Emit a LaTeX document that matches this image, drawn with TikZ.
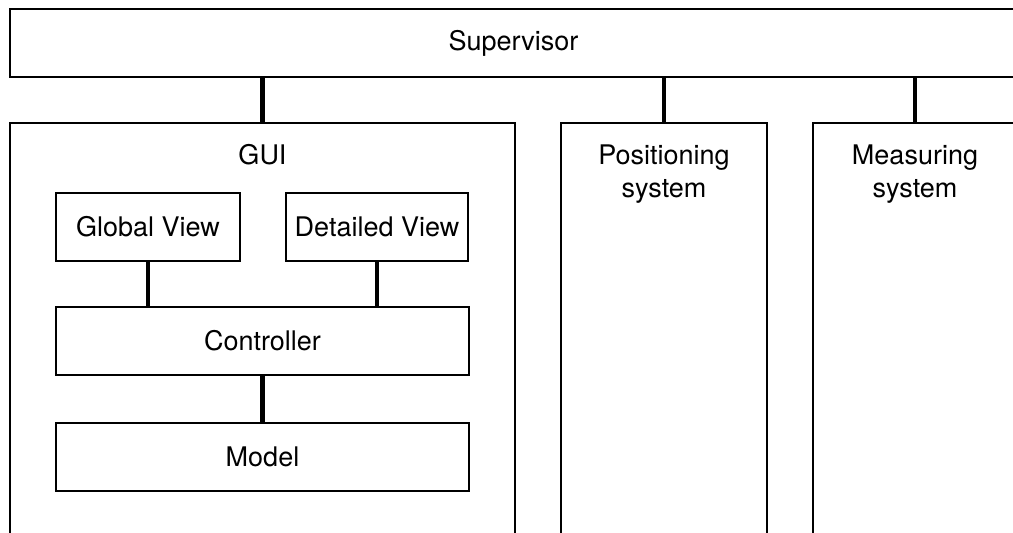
\documentclass[tikz,border=0pt]{standalone}
\usepackage{fontspec}
\setmainfont{TeX Gyre Heros}
\usepackage{tikz}
\usetikzlibrary{positioning,calc}

\begin{document}
\begin{tikzpicture}[x=1pt,y=-1pt,
  font=\fontsize{27}{32.5}\selectfont,
  box/.style={draw,line width=1.8pt,inner sep=0pt,align=center},
  cont/.style={box,minimum height=440pt},
  part/.style={box,minimum height=68pt},
  title/.style={inner sep=0pt,align=center},
  link/.style={line width=4.5pt}]
  \useasboundingbox (0,0) rectangle (1013,533);
  \clip (0,0) rectangle (1013,533);
  % top level
  \node[box,minimum width=1007pt,minimum height=68pt] (sup) at (513.5,43) {Supervisor};
  \node[cont,minimum width=505pt] (gui) at (262.5,343) {};
  \node[cont,minimum width=206pt] (pos) at (664,343) {};
  \node[cont,minimum width=204pt] (meas) at (915,343) {};
  \node[title,below=22.5pt of gui.north] (guit) {GUI};
  \node[title,below=23pt of pos.north] (post) {Positioning\\system};
  \node[title,below=23pt of meas.north] (meast) {Measuring\\system};
  \draw[link] (gui.north) -- (gui.north |- sup.south);
  \draw[link] (pos.north) -- (pos.north |- sup.south);
  \draw[link] (meas.north) -- (meas.north |- sup.south);
  % inside the GUI
  \node[part,minimum width=184pt] (gv) at (148,227) {Global View};
  \node[part,minimum width=182pt] (dv) at (377,227) {Detailed View};
  \node[part,minimum width=413pt] (ctrl) at (262.5,341) {Controller};
  \node[part,minimum width=413pt,below=46pt of ctrl] (model) {Model};
  \draw[link] (gv) -- (gv |- ctrl.north);
  \draw[link] (dv) -- (dv |- ctrl.north);
  \draw[link] (ctrl) -- (model);
\end{tikzpicture}
\end{document}
